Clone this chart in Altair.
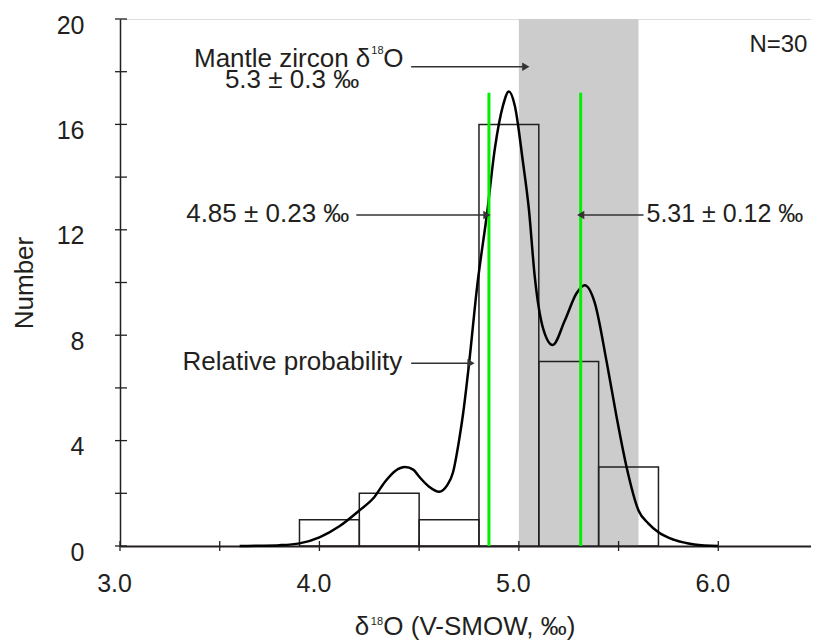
import altair as alt
import pandas as pd

# ---------------- data ----------------
bin_start = [3.9, 4.2, 4.5, 4.8, 5.1, 5.4]
bin_end = [4.2, 4.5, 4.8, 5.1, 5.4, 5.7]
counts = [1, 2, 1, 16, 7, 3]

curve_x = [3.6, 3.7, 3.8, 3.9, 4.0, 4.1, 4.2, 4.27, 4.33, 4.38, 4.43, 4.47, 4.5, 4.55,
           4.6, 4.64, 4.67, 4.7, 4.72, 4.75, 4.79, 4.84, 4.88, 4.92, 4.95, 4.98, 5.02,
           5.05, 5.08, 5.12, 5.17, 5.23, 5.29, 5.33, 5.38, 5.44, 5.49, 5.54, 5.6, 5.65,
           5.7, 5.78, 5.88, 6.0]
curve_y = [0.0, 0.01, 0.03, 0.1, 0.33, 0.75, 1.35, 1.81, 2.45, 2.85, 3.0, 2.9, 2.63, 2.25,
           2.06, 2.3, 2.8, 4.0, 5.0, 6.9, 9.8, 12.6, 15.1, 16.7, 17.25, 16.7, 14.6,
           12.8, 10.2, 8.3, 7.63, 8.55, 9.6, 9.9, 9.25, 7.0, 4.9, 3.0, 1.35, 0.85,
           0.52, 0.23, 0.06, 0.0]

mantle_band = [5.0, 5.6]
mean_values = [4.85, 5.31]
mean_top = 17.2

x_tick_values = [3.0, 3.5, 4.0, 4.5, 5.0, 5.5, 6.0, 6.5]
y_tick_values = [0, 2, 4, 6, 8, 10, 12, 14, 16, 18, 20]
x_label_values = [3.0, 4.0, 5.0, 6.0]
y_label_values = [0, 4, 8, 12, 16, 20]

# annotation arrows: start x, end x, y
arrow_x0 = [4.46, 4.185, 5.625, 4.46]
arrow_x1 = [5.035, 4.84, 5.31, 4.76]
arrow_y = [18.19, 12.56, 12.56, 6.94]
arrow_dir = ["right", "right", "left", "right"]

label_text = ["5.3 ± 0.3 ‰", "4.85 ± 0.23 ‰", "5.31 ± 0.12 ‰", "Relative probability", "N=30"]
label_x = [3.8625, 4.15, 5.64, 4.415, 6.447]
label_y = [17.38, 12.3, 12.3, 6.68, 18.75]
label_align = ["center", "right", "left", "right", "right"]
label_size = [26, 26, 25, 26, 24]

FONT = "Liberation Sans"
INK = "#231f20"
FS = 26
W, H = 698, 527
X_MIN, X_MAX = 3.0, 6.5
Y_MIN, Y_MAX = 0, 20

xs = alt.Scale(domain=[X_MIN, X_MAX], nice=False, zero=False)
ys = alt.Scale(domain=[Y_MIN, Y_MAX], nice=False, zero=False)

x_axis = alt.Axis(
    values=x_label_values, format=".1f", title=None, grid=False, labelFlush=False,
    tickSize=0, labelPadding=25, labelOffset=-6, labelFontSize=25,
    labelFont=FONT, labelColor=INK, domainColor=INK, domainWidth=2)
y_axis = alt.Axis(
    values=y_label_values, format="d", title="Number", grid=False,
    tickSize=0, labelPadding=36, labelOffset=6, labelFontSize=25,
    labelFont=FONT, labelColor=INK, domainColor=INK, domainWidth=1.5,
    titleFont=FONT, titleFontSize=FS, titleFontWeight="normal",
    titleColor=INK, titleX=-88, titleBaseline="alphabetic")


def X(field):
    return alt.X(field, scale=xs, axis=x_axis)


def Y(field):
    return alt.Y(field, scale=ys, axis=y_axis)


# ---------------- layers ----------------
band_df = pd.DataFrame({"x": [mantle_band[0]], "x2": [mantle_band[1]],
                        "y": [Y_MIN], "y2": [Y_MAX]})
band = alt.Chart(band_df).mark_rect(color="#cccccc").encode(
    x=X("x:Q"), x2="x2:Q", y=Y("y:Q"), y2="y2:Q"
)

bars_df = pd.DataFrame({"x": bin_start, "x2": bin_end, "y": counts,
                        "y0": [0] * len(counts)})
bars = alt.Chart(bars_df).mark_rect(
    fill="white", fillOpacity=0, stroke=INK, strokeWidth=1.5
).encode(x=X("x:Q"), x2="x2:Q", y=Y("y:Q"), y2="y0:Q")

curve_df = pd.DataFrame({"x": curve_x, "y": curve_y})
curve = alt.Chart(curve_df).mark_line(
    color="black", strokeWidth=2.5, interpolate="monotone"
).encode(x=X("x:Q"), y=Y("y:Q"))

means_df = pd.DataFrame({"x": mean_values, "y": [0] * len(mean_values),
                         "top": [mean_top] * len(mean_values)})
green = alt.Chart(means_df).mark_rule(color="#00f000", strokeWidth=3).encode(
    x=X("x:Q"), y=Y("y:Q"), y2="top:Q"
)

xt_df = pd.DataFrame({"x": x_tick_values, "y": [Y_MIN] * len(x_tick_values)})
xticks = alt.Chart(xt_df).mark_tick(
    orient="vertical", size=10, thickness=1.3, color=INK, opacity=1
).encode(x=X("x:Q"), y=Y("y:Q"))

yt_df = pd.DataFrame({"y": y_tick_values, "x": [X_MIN] * len(y_tick_values)})
yticks = alt.Chart(yt_df).mark_tick(
    orient="horizontal", size=12, thickness=1.3, color=INK, opacity=1, xOffset=1
).encode(x=X("x:Q"), y=Y("y:Q"))

arr_df = pd.DataFrame({"x": arrow_x0, "x2": arrow_x1, "y": arrow_y, "dir": arrow_dir})
arrows = alt.Chart(arr_df).mark_rule(color="#333333", strokeWidth=1.5).encode(
    x=X("x:Q"), x2="x2:Q", y=Y("y:Q")
)
heads_r = alt.Chart(arr_df).transform_filter("datum.dir == 'right'").mark_point(
    shape="triangle-right", filled=True, size=70, color="#333333", opacity=1, dx=-3
).encode(x=X("x2:Q"), y=Y("y:Q"))
heads_l = alt.Chart(arr_df).transform_filter("datum.dir == 'left'").mark_point(
    shape="triangle-left", filled=True, size=70, color="#333333", opacity=1, dx=3
).encode(x=X("x2:Q"), y=Y("y:Q"))

lab_df = pd.DataFrame({"t": label_text, "x": label_x, "y": label_y,
                       "a": label_align, "s": label_size})
labels = []
for al in ["center", "left", "right"]:
    labels.append(
        alt.Chart(lab_df).transform_filter(f"datum.a == '{al}'").mark_text(
            font=FONT, color=INK, align=al, baseline="alphabetic"
        ).encode(x=X("x:Q"), y=Y("y:Q"), text="t:N",
                 size=alt.Size("s:Q", scale=None, legend=None))
    )

# "Mantle zircon δ18O" with superscript
mz_df = pd.DataFrame({"x": [4.255], "y": [18.19]})
mz_main = alt.Chart(mz_df).mark_text(
    font=FONT, fontSize=FS, color=INK, align="right", baseline="alphabetic",
    text="Mantle zircon δ"
).encode(x=X("x:Q"), y=Y("y:Q"))
mz_sup = alt.Chart(mz_df).mark_text(
    font=FONT, fontSize=11, color=INK, align="left", baseline="alphabetic",
    dx=1, dy=-13, text="18"
).encode(x=X("x:Q"), y=Y("y:Q"))
mz_o = alt.Chart(mz_df).mark_text(
    font=FONT, fontSize=FS, color=INK, align="left", baseline="alphabetic",
    dx=13, text="O"
).encode(x=X("x:Q"), y=Y("y:Q"))

# x-axis title "δ18O (V-SMOW, ‰)"
xt_title_df = pd.DataFrame({"x": [4.25]})
xt_main = alt.Chart(xt_title_df).mark_text(
    font=FONT, fontSize=FS, color=INK, align="right", baseline="alphabetic", text="δ"
).encode(x=X("x:Q"), y=alt.value(H + 89))
xt_sup = alt.Chart(xt_title_df).mark_text(
    font=FONT, fontSize=11, color=INK, align="left", baseline="alphabetic",
    dx=1.5, dy=-10, text="18"
).encode(x=X("x:Q"), y=alt.value(H + 89))
xt_rest = alt.Chart(xt_title_df).mark_text(
    font=FONT, fontSize=FS, color=INK, align="left", baseline="alphabetic",
    dx=14, text="O (V-SMOW, ‰)"
).encode(x=X("x:Q"), y=alt.value(H + 89))

chart = alt.layer(
    band, bars, curve, green, xticks, yticks, arrows, heads_r, heads_l,
    *labels, mz_main, mz_sup, mz_o, xt_main, xt_sup, xt_rest
).properties(
    width=W, height=H,
    autosize=alt.AutoSizeParams(type="none"),
    padding={"left": 112, "top": 11, "right": -7, "bottom": 96},
).configure_view(
    stroke=INK, strokeWidth=1.5
).configure(background="white")

chart.save("out.html", embed_options={"renderer": "svg", "actions": False})
